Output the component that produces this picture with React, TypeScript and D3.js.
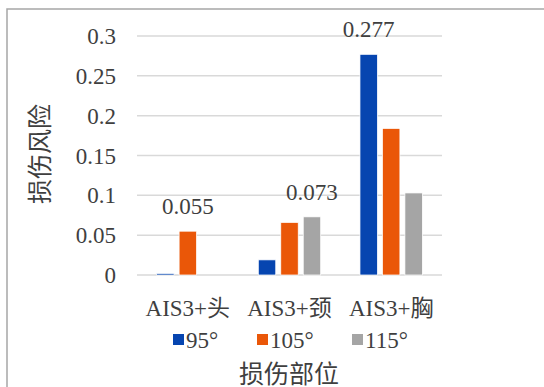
import * as d3 from "d3";

const categories = ["AIS3+头", "AIS3+颈", "AIS3+胸"];
const series = ["95°", "105°", "115°"];
const colors = ["#0645b0", "#ea5708", "#a5a5a5"];
// values per series, in category order
const v95 = [0.002, 0.019, 0.277];
const v105 = [0.055, 0.066, 0.184];
const v115 = [0, 0.073, 0.103];
const yTicks = [0, 0.05, 0.1, 0.15, 0.2, 0.25, 0.3];
const yTickLabels = ["0", "0.05", "0.1", "0.15", "0.2", "0.25", "0.3"];
// which bars carry a data label: [category index, series index]
const labelled: [number, number][] = [
  [0, 1],
  [1, 2],
  [2, 0],
];

const W = 544;
const H = 387;
const serif = "Liberation Serif, Noto Sans CJK SC, serif";
const textColor = "#3f3f3f";

export default function App() {
  const values = [v95, v105, v115];

  const x = d3.scaleBand<string>().domain(categories).range([137, 442]);
  const y = d3.scaleLinear().domain([0, 0.3]).range([275, 36]);
  const inner = d3
    .scaleBand<string>()
    .domain(series)
    .range([-31.2, 31.2])
    .paddingInner(0.223);

  const bars = series.flatMap((s, si) =>
    categories.map((c, ci) => ({
      key: `${s}-${c}`,
      x: x(c)! + x.bandwidth() / 2 + inner(s)!,
      y: y(values[si][ci]),
      h: y(0) - y(values[si][ci]),
      color: colors[si],
      v: values[si][ci],
    }))
  );

  const legendX = [173, 257, 352];

  return (
    <svg
      width={W}
      height={H}
      style={{ position: "absolute", left: 0, top: 0, background: "#fff", fontFamily: serif }}
    >
      <rect x={7} y={9} width={W + 20} height={H + 20} fill="#fff" stroke="#a6a6a6" strokeWidth={1.5} />

      {/* gridlines */}
      {yTicks.map((t) => (
        <line key={t} x1={137} x2={442} y1={y(t)} y2={y(t)} stroke="#d9d9d9" strokeWidth={1.5} />
      ))}
      {yTicks.map((t, i) => (
        <text key={`l${t}`} x={116} y={y(t) + 8} textAnchor="end" fontSize={23} fill={textColor}>
          {yTickLabels[i]}
        </text>
      ))}

      {/* bars */}
      {bars
        .filter((b) => b.v > 0)
        .map((b) => (
          <rect
            key={b.key}
            x={b.x}
            y={b.y}
            width={inner.bandwidth()}
            height={b.h}
            fill={b.color}
            stroke="#fff"
            strokeWidth={0.75}
          />
        ))}

      {/* data labels */}
      {labelled.map(([ci, si]) => {
        const v = values[si][ci];
        const cx = x(categories[ci])! + x.bandwidth() / 2 + inner(series[si])! + inner.bandwidth() / 2;
        return (
          <text key={`d${ci}-${si}`} x={cx} y={y(v) - 17} textAnchor="middle" fontSize={23} fill={textColor}>
            {d3.format(".3f")(v)}
          </text>
        );
      })}

      {/* category labels */}
      {categories.map((c) => (
        <text key={c} x={x(c)! + x.bandwidth() / 2} y={316} textAnchor="middle" fontSize={23} fill={textColor}>
          {c}
        </text>
      ))}

      {/* legend */}
      {series.map((s, i) => (
        <g key={s} transform={`translate(${legendX[i]},0)`}>
          <rect x={0} y={334} width={11} height={11} fill={colors[i]} />
          <text x={13} y={348} fontSize={23} fill={textColor}>
            {s}
          </text>
        </g>
      ))}

      {/* axis titles */}
      <text transform="translate(49,154) rotate(-90)" textAnchor="middle" fontSize={25} fill={textColor}>
        损伤风险
      </text>
      <text x={289} y={383} textAnchor="middle" fontSize={25} fill={textColor}>
        损伤部位
      </text>
    </svg>
  );
}
